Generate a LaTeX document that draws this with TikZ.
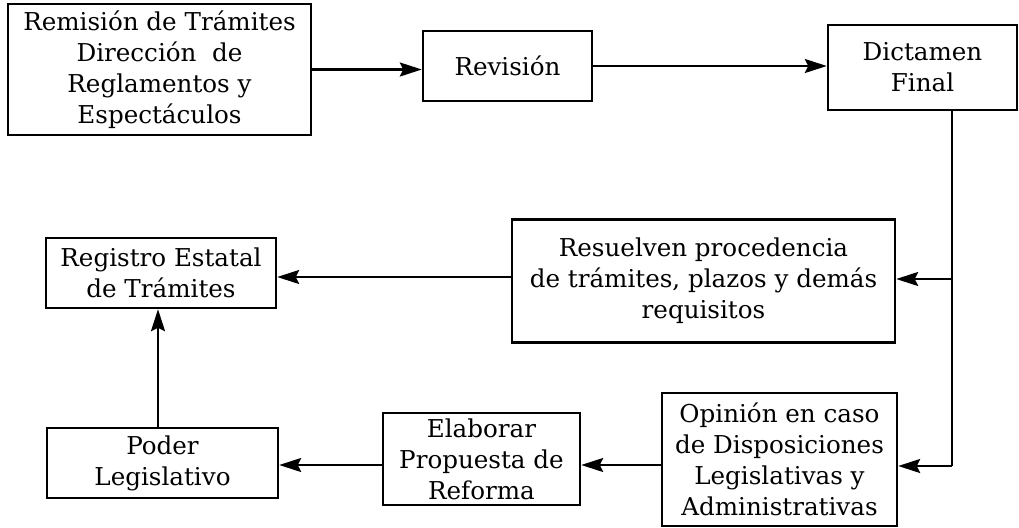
\documentclass[tikz,border=0pt]{standalone}
\usepackage{fontspec}
\setmainfont{DejaVu Serif}
\usetikzlibrary{arrows.meta}
\begin{document}
\begin{tikzpicture}[x=0.02cm,y=-0.02cm,
  box/.style={draw,line width=1.4pt,align=center,inner sep=0pt,
    font=\fontsize{14}{17.6}\selectfont},
  link/.style={line width=1.4pt,-{Stealth[length=0.44cm,width=0.28cm,inset=0.07cm]}},
  wire/.style={line width=1.4pt}]
\useasboundingbox (0,0) rectangle (1019,528);
% top row
\node[box,minimum width=6.06cm,minimum height=2.62cm] (b1) at (159.5,69.5)
  {Remisión de Trámites\\Dirección\ \ de\\Reglamentos y\\Espectáculos};
\node[box,minimum width=3.38cm,minimum height=1.4cm] (b2) at (507.5,66) {Revisión};
\node[box,minimum width=3.78cm,minimum height=1.7cm] (b3) at (922.5,67.5) {Dictamen\\Final};
% middle row
\node[box,minimum width=7.66cm,minimum height=2.46cm] (b4) at (703.5,281)
  {Resuelven procedencia\\de trámites, plazos y demás\\requisitos};
\node[box,minimum width=4.6cm,minimum height=1.4cm] (b5) at (161,273)
  {Registro Estatal\\de Trámites};
% bottom row
\node[box,minimum width=4.7cm,minimum height=2.66cm] (b6) at (779.5,459.5)
  {Opinión en caso\\de Disposiciones\\Legislativas y\\Administrativas};
\node[box,minimum width=3.94cm,minimum height=1.84cm] (b7) at (481.5,459)
  {Elaborar\\Propuesta de\\Reforma};
\node[box,minimum width=4.62cm,minimum height=1.4cm] (b8) at (162.5,463)
  {Poder\\Legislativo};
% junction points on the right-hand trunk and the row levels
\coordinate (j1) at (952,279);
\coordinate (j2) at (952,466);
\coordinate (row) at (0,465);
\coordinate (mid) at (0,277);
% connectors
\draw[link] (b1.east) -- (b1.east -| b2.west);
\draw[link] (b2.east) -- (b2.east -| b3.west);
\draw[wire] (j1 |- b3.south) -- (j2);
\draw[link] (j1) -- (j1 -| b4.east);
\draw[link] (j2) -- (j2 -| b6.east);
\draw[link] (b4.west |- mid) -- (b5.east |- mid);
\draw[link] (b6.west |- row) -- (b7.east |- row);
\draw[link] (b7.west |- row) -- (b8.east |- row);
\draw[link] (b8.north -| 158,0) -- (b5.south -| 158,0);
\end{tikzpicture}
\end{document}
